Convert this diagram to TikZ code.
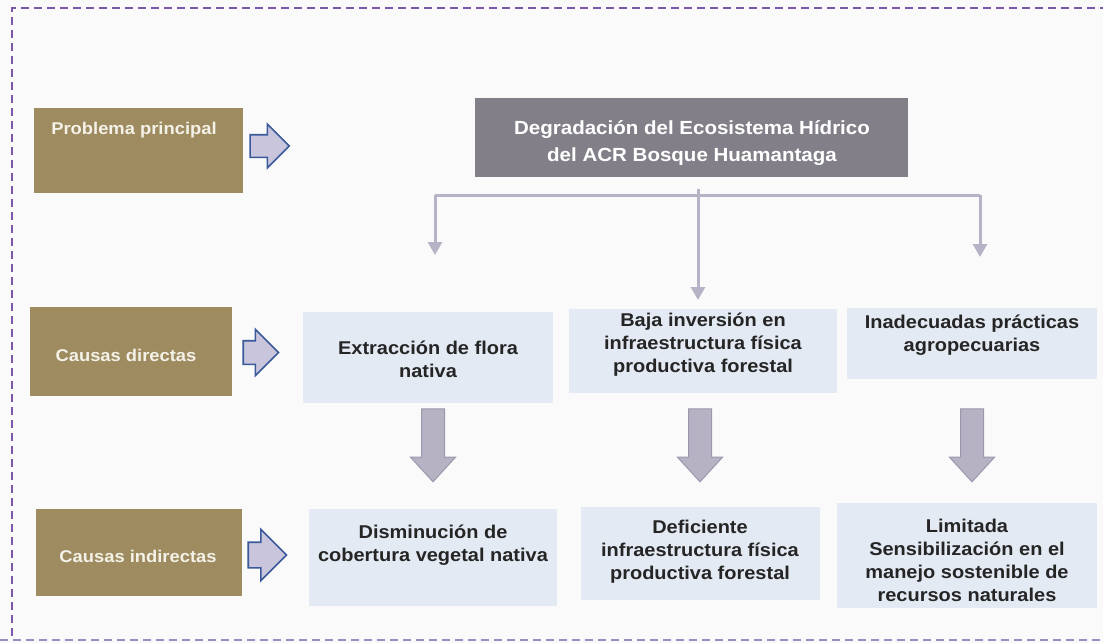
\documentclass[tikz,border=0pt]{standalone}
\usepackage{fontspec}
\setmainfont{Liberation Sans}[FakeStretch=1.08]
\usetikzlibrary{shapes.arrows,arrows.meta}
\definecolor{khakiC}{HTML}{9E8C60}
\definecolor{creamC}{HTML}{F4F1E8}
\definecolor{darkboxC}{HTML}{837F88}
\definecolor{lightboxC}{HTML}{E4EAF3}
\definecolor{boxtextC}{HTML}{252525}
\definecolor{connC}{HTML}{B7B3C7}
\definecolor{downfillC}{HTML}{B6B2C4}
\definecolor{downdrawC}{HTML}{9C98AC}
\definecolor{rarrowfillC}{HTML}{C9C5DD}
\definecolor{rarrowdrawC}{HTML}{3B5A9A}
\definecolor{borderC}{HTML}{7C58A8}
\definecolor{bottomC}{HTML}{9B8CC4}
\definecolor{bgC}{HTML}{FAFAFA}
\tikzset{
  kbox/.style={fill=khakiC, inner sep=0pt},
  ktext/.style={text=creamC, font=\bfseries\fontsize{17}{22}\selectfont, inner sep=0pt, align=center},
  bbox/.style={fill=lightboxC, inner sep=0pt},
  btext/.style={text=boxtextC, font=\bfseries\fontsize{18.5}{23}\selectfont, inner sep=0pt, align=center},
  gbox/.style={fill=darkboxC, inner sep=0pt},
  gtext/.style={text=white, font=\bfseries\fontsize{19}{27}\selectfont, inner sep=0pt, align=center},
  rarrow/.style={shape=single arrow, fill=rarrowfillC, draw=rarrowdrawC, line width=1.6pt, single arrow tip angle=90},
  darrow/.style={shape=single arrow, fill=downfillC, draw=downdrawC, line width=1pt, inner sep=11pt, single arrow tip angle=85, shape border rotate=270, minimum height=73pt, minimum width=44pt, single arrow head extend=11pt},
  conn/.style={draw=connC, line width=3pt},
  connarrow/.style={conn, -{Triangle[width=14pt,length=13pt]}},
  border/.style={draw=borderC, line width=1.8pt, dash pattern=on 8pt off 5pt},
}
\begin{document}
\begin{tikzpicture}[x=1pt, y=-1pt]
\useasboundingbox (0,0) rectangle (1103,643);
\fill[bgC] (0,0) rectangle (1103,643);
% border
\draw[border] (12,636) -- (12,8) -- (1103,8);
\draw[border, draw=bottomC] (0,640) -- (1103,640);

% left labels
\node[kbox, minimum width=209pt, minimum height=85pt] (pp) at (138.5,150.5) {};
\node[ktext] (ppt) at (134,130) {Problema principal};
\node[kbox, minimum width=202pt, minimum height=89pt] (cd) at (131,351.5) {};
\node[ktext] (cdt) at (126,355) {Causas directas};
\node[kbox, minimum width=206pt, minimum height=87pt] (ci) at (139,552) {};
\node[ktext] (cit) at (138,556) {Causas indirectas};

% right-pointing arrows
\node[rarrow, inner sep=10.5pt, minimum height=39pt, minimum width=42pt, single arrow head extend=10.5pt] (a1) at (264,146) {};
\node[rarrow, inner sep=11pt, minimum height=34pt, minimum width=45pt, single arrow head extend=11.5pt] (a2) at (255,352.5) {};
\node[rarrow, inner sep=12pt, minimum height=38pt, minimum width=50pt, single arrow head extend=13pt] (a3) at (261,555) {};

% main problem
\node[gbox, minimum width=433pt, minimum height=79pt] (dg) at (691.5,137.5) {};
\node[gtext] (dgt) at (692,143) {Degradación del Ecosistema Hídrico\\del ACR Bosque Huamantaga};

% direct causes
\node[bbox, minimum width=250pt, minimum height=91pt] (ex) at (428,357.5) {};
\node[btext] (ext) at (428,359) {Extracción de flora\\nativa};
\node[bbox, minimum width=268pt, minimum height=84pt] (bi) at (703,351) {};
\node[btext] (bit) at (703,345) {Baja inversión en\\infraestructura física\\productiva forestal};
\node[bbox, minimum width=250pt, minimum height=71pt] (ia) at (972,343.5) {};
\node[btext] (iat) at (972,335) {Inadecuadas prácticas\\agropecuarias};

% indirect causes
\node[bbox, minimum width=248pt, minimum height=97pt] (di) at (433,557.5) {};
\node[btext] (dit) at (433,545) {Disminución de\\cobertura vegetal nativa};
\node[bbox, minimum width=239pt, minimum height=93pt] (de) at (700.5,553.5) {};
\node[btext] (det) at (700,552) {Deficiente\\infraestructura física\\productiva forestal};
\node[bbox, minimum width=260pt, minimum height=105pt] (li) at (967,555.5) {};
\node[btext] (lit) at (967,560) {Limitada\\Sensibilización en el\\manejo sostenible de\\recursos naturales};

% down block arrows
\node[darrow] (d1) at (433,439) {};
\node[darrow] (d2) at (700,439) {};
\node[darrow] (d3) at (972,439) {};

% connectors
\coordinate (cTop) at (698,189);
\coordinate (jL) at (435,195);
\coordinate (jR) at (980,195);
\coordinate (tL) at (435,255);
\coordinate (tR) at (980,257);
\coordinate (tC) at (698,300);
\draw[conn] (jL) -- (jR);
\draw[connarrow] (jL) -- (tL);
\draw[connarrow] (jR) -- (tR);
\draw[connarrow] (cTop) -- (tC);
\end{tikzpicture}
\end{document}
